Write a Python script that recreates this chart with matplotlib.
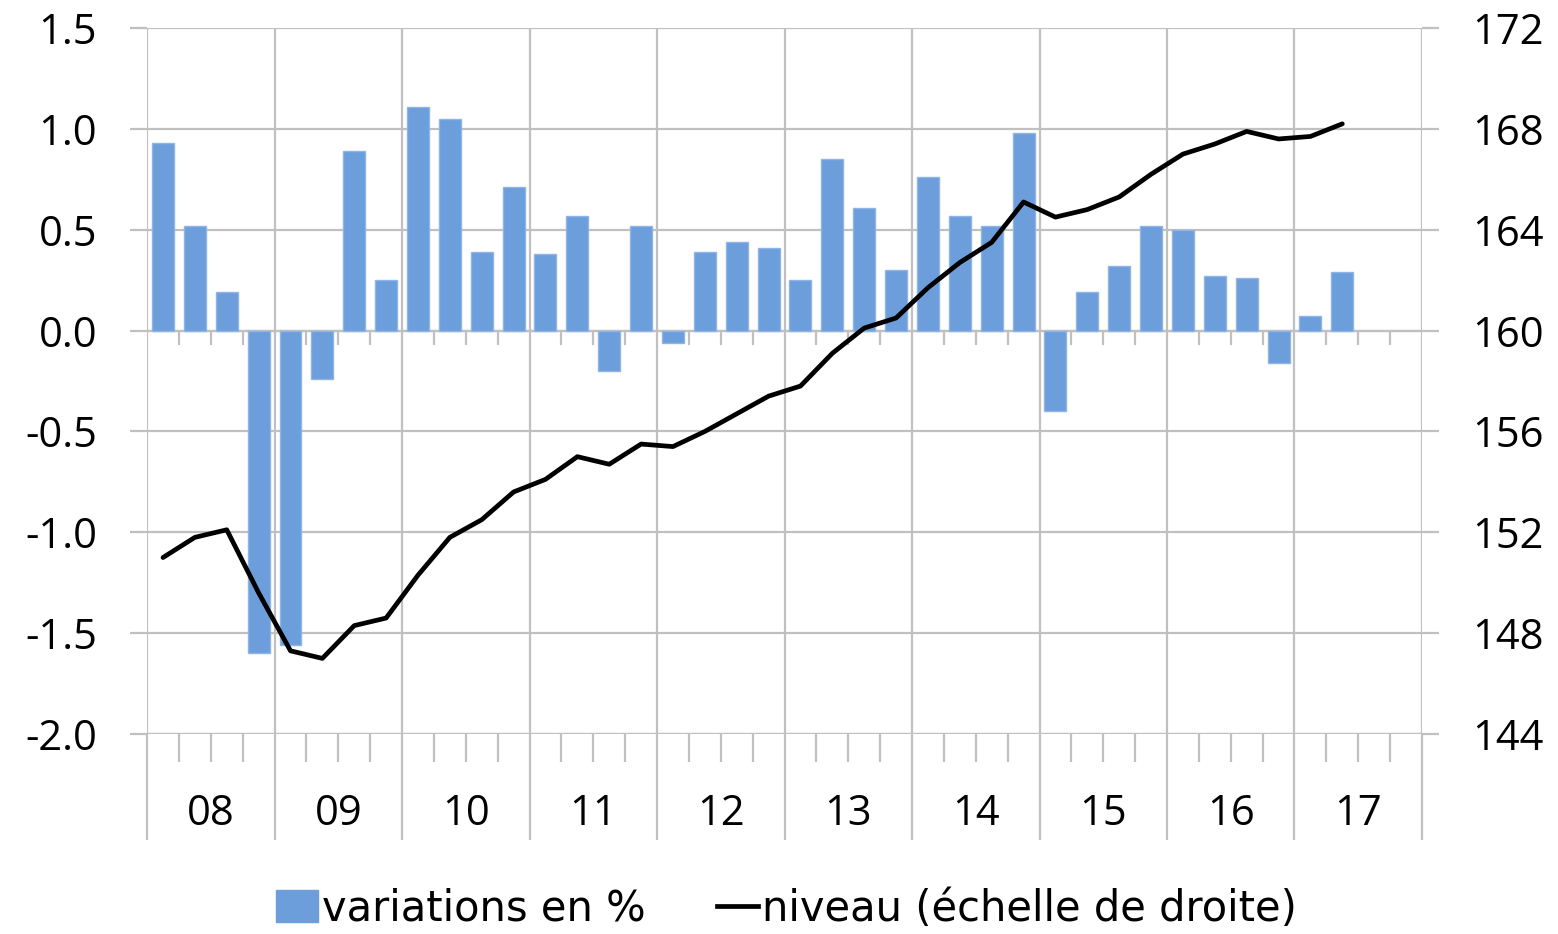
import numpy as np
import matplotlib
matplotlib.use("Agg")
import matplotlib.pyplot as plt
from matplotlib.lines import Line2D
from matplotlib.patches import Patch

plt.rcParams['font.family'] = ['Open Sans', 'DejaVu Sans']

years = ['08', '09', '10', '11', '12', '13', '14', '15', '16', '17']

variations = [0.93, 0.52, 0.19, -1.60,
              -1.56, -0.24, 0.89, 0.25,
              1.11, 1.05, 0.39, 0.71,
              0.38, 0.57, -0.20, 0.52,
              -0.06, 0.39, 0.44, 0.41,
              0.25, 0.85, 0.61, 0.30,
              0.76, 0.57, 0.52, 0.98,
              -0.40, 0.19, 0.32, 0.52,
              0.50, 0.27, 0.26, -0.16,
              0.07, 0.29]

niveau = [151.0, 151.8, 152.1, 149.6,
          147.3, 147.0, 148.3, 148.6,
          150.3, 151.8, 152.5, 153.6,
          154.1, 155.0, 154.7, 155.5,
          155.4, 156.0, 156.7, 157.4,
          157.8, 159.1, 160.1, 160.5,
          161.7, 162.7, 163.5, 165.1,
          164.5, 164.8, 165.3, 166.2,
          167.0, 167.4, 167.9, 167.6,
          167.7, 168.2]

GRID = '#c0c0c0'
BLUE = '#6b9edb'

x = np.arange(len(variations)) + 0.5
n_quarters = 4 * len(years)

fig = plt.figure(figsize=(15.58, 9.34), dpi=100)
ax = fig.add_axes([0.0944, 0.2141, 0.8183, 0.7559])
ax2 = ax.twinx()

ax.bar(x, variations, width=0.69, color=BLUE, edgecolor='#8fb5e6', linewidth=1, zorder=3)
ax2.plot(x, niveau, color='black', linewidth=3.4, zorder=4, solid_capstyle='round')

ax.set_xlim(0, n_quarters)
ax.set_ylim(-2.0, 1.5)
ax2.set_ylim(144, 172)
ax.set_yticks(np.arange(-2.0, 1.51, 0.5))
ax.set_yticklabels([f'{v:.1f}' for v in np.arange(-2.0, 1.51, 0.5)])
ax2.set_yticks(np.arange(144, 173, 4))

for a in (ax, ax2):
    for s in a.spines.values():
        s.set_visible(False)

ax.set_axisbelow(True)
ax.grid(True, axis='y', color=GRID, linewidth=1.6, zorder=0)
ax.set_xticks(np.arange(0, n_quarters + 1, 4))
ax.set_xticks(np.arange(0, n_quarters + 1, 1), minor=True)
ax.grid(True, axis='x', which='major', color=GRID, linewidth=1.6, zorder=0)
ax.tick_params(axis='x', which='major', length=76, width=1.6, color=GRID, labelbottom=False)
ax.tick_params(axis='x', which='minor', length=20, width=1.6, color=GRID)
ax.tick_params(axis='y', length=12, width=1.6, color=GRID, pad=24, labelsize=30)
ax2.tick_params(axis='y', length=12, width=1.6, color=GRID, pad=24, labelsize=30)

# zero axis line with small quarter ticks below it
ax.axhline(0, color=GRID, linewidth=1.6, zorder=2)
q = np.array([i for i in range(1, n_quarters) if i % 4 != 0])
ax.vlines(q, -0.07, 0, color=GRID, linewidth=1.6, zorder=2)

# bottom axis line
ax.axhline(-2.0, color=GRID, linewidth=1.6, zorder=2)

tr = matplotlib.transforms.blended_transform_factory(ax.transData, ax.transAxes)
for i, yl in enumerate(years):
    ax.text(4 * i + 2, -0.113, yl, transform=tr, ha='center', va='center', fontsize=30)

handles = [Patch(facecolor=BLUE, edgecolor=BLUE),
           Line2D([0], [0], color='black', linewidth=3.4)]
leg = fig.legend(handles, ['variations en %', 'niveau (échelle de droite)'],
                 loc='center', bbox_to_anchor=(0.505, 0.027), ncol=2, frameon=False,
                 prop={'family': ['Liberation Sans Narrow', 'DejaVu Sans'], 'size': 30},
                 handlelength=1.0, handleheight=0.8, handletextpad=0.1, columnspacing=1.7)

fig.savefig('out.png', dpi=100)
